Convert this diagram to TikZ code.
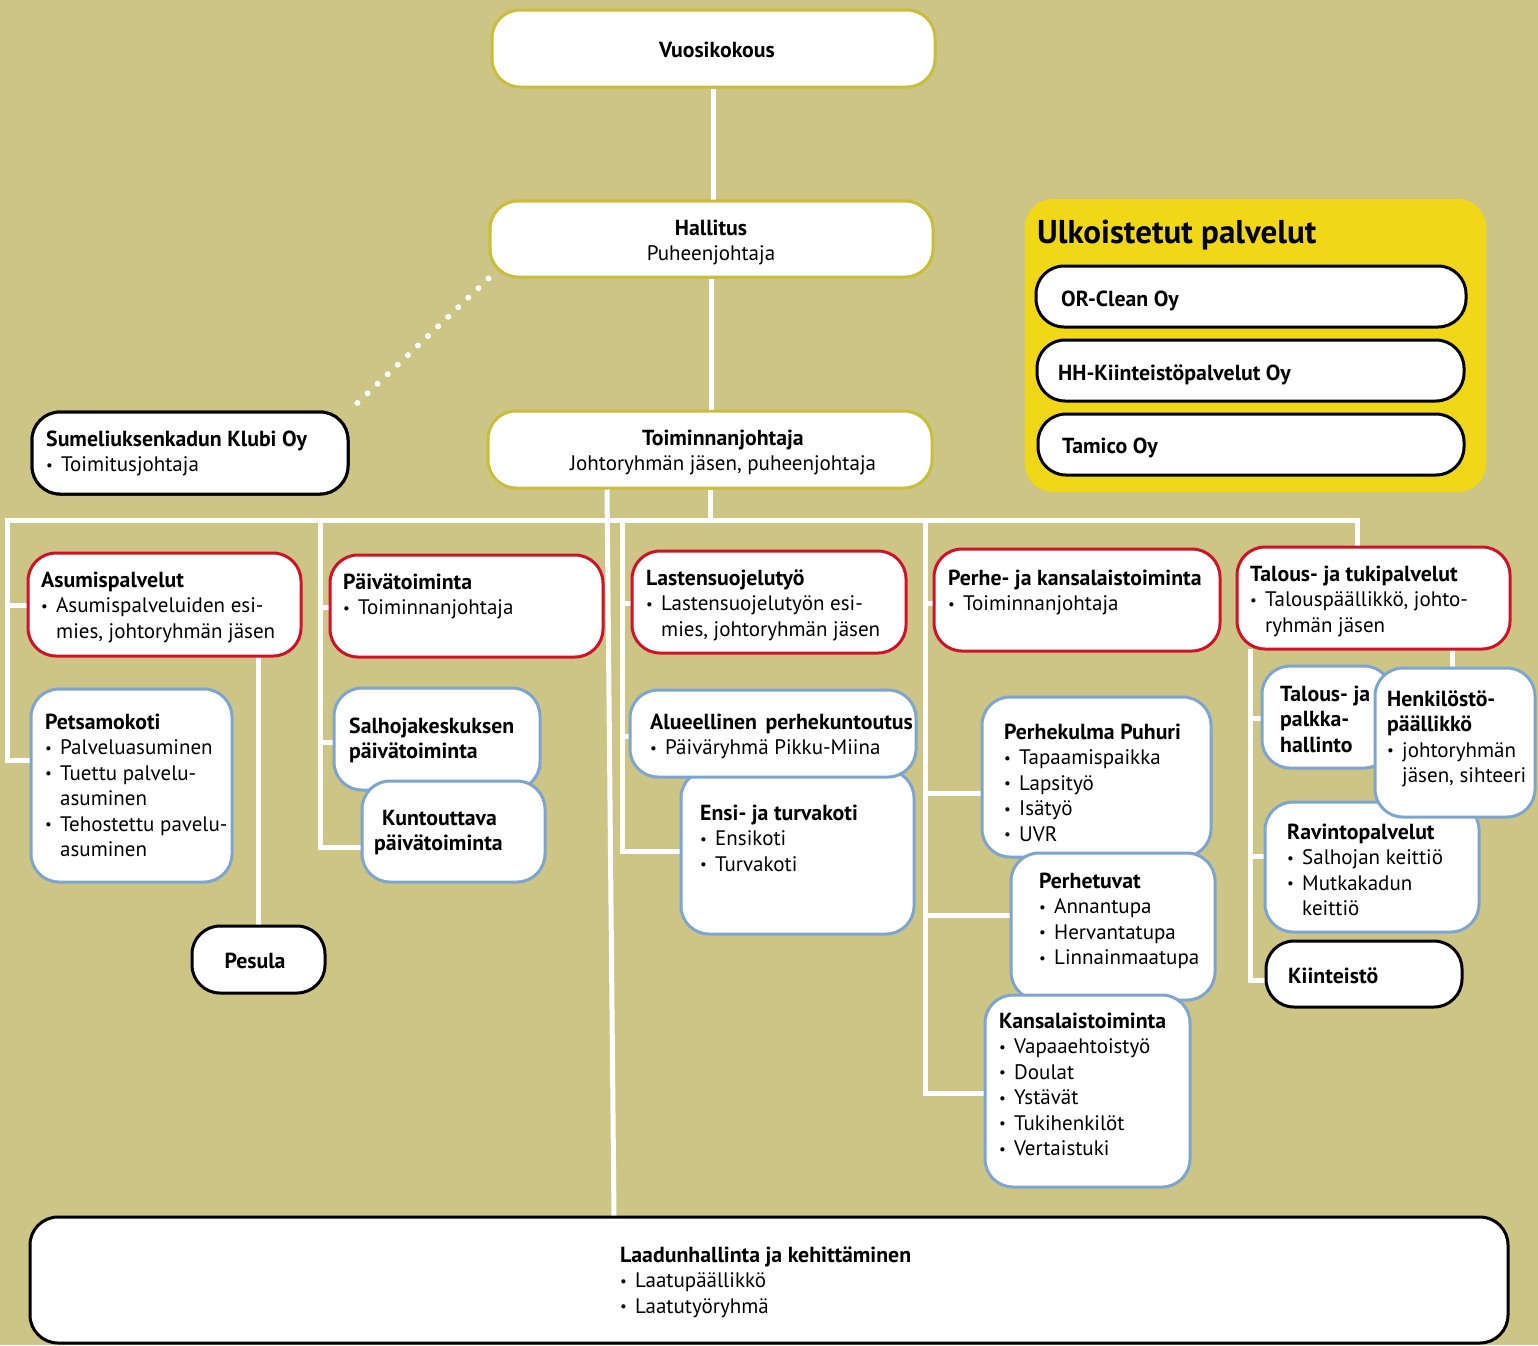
\documentclass[tikz,border=0pt]{standalone}
\usepackage{fontspec}
\setmainfont{PT Sans}
\definecolor{bg}{RGB}{205,197,133}
\definecolor{olivebd}{RGB}{200,190,60}
\definecolor{ylw}{RGB}{240,216,24}
\definecolor{redbd}{RGB}{208,18,40}
\definecolor{bluebd}{RGB}{125,165,208}
\newcommand\bul{\makebox[15pt][l]{\raisebox{1.5pt}{\fontsize{15}{15}\selectfont\textbullet}}}
\newcommand\ind{\hspace*{15pt}}
\newcommand\tb[1]{{\fontsize{21.8}{25.5}\selectfont\bfseries #1}}
\newcommand\mytl[4]{\node[txt,anchor=base west] (#1) at (#2,#3) {\begin{tabular}[t]{@{}l@{}}#4\end{tabular}};}
\newcommand\mytc[4]{\node[txt,anchor=base] (#1) at (#2,#3) {\begin{tabular}[t]{@{}c@{}}#4\end{tabular}};}
\newcommand\bx[6]{\node[boxx,#2,minimum width={#5-#3},minimum height={#6-#4}] (#1) at ({(#3+#5)/2},{(#4+#6)/2}) {};}
\tikzset{
  boxx/.style={rectangle,rounded corners=28pt,line width=3pt,fill=white,inner sep=0pt},
  olive/.style={draw=olivebd},
  redb/.style={draw=redbd},
  blueb/.style={draw=bluebd},
  blackb/.style={draw=black},
  yel/.style={fill=ylw,draw=none},
  txt/.style={inner sep=0pt,font=\fontsize{21}{25.5}\selectfont},
  wire/.style={draw=white,line width=5pt},
}
\begin{document}
\begin{tikzpicture}[x=1pt,y=-1pt]
\useasboundingbox (0,0) rectangle (1538,1345);
\fill[bg] (0,0) rectangle (1538,1345);
% coordinates
\coordinate (bL) at (7,520);
\coordinate (bR) at (1357,520);
\coordinate (c2) at (320,520);
\coordinate (c3) at (622,520);
\coordinate (c4) at (925,520);
\coordinate (cT) at (1250,649);
\coordinate (cH) at (1452,649);
% top boxes
\bx{vuosi}{olive}{492}{10}{935}{87}
\bx{hall}{olive}{490}{201}{933}{277}
\bx{toim}{olive}{488}{411}{932}{488}
\bx{klubi}{blackb}{32}{412}{348}{494}
\bx{ulko}{yel}{1025}{199}{1486}{492}
\bx{orc}{blackb}{1036}{266}{1466}{327}
\bx{hh}{blackb}{1037}{340}{1464}{401}
\bx{tam}{blackb}{1038}{414}{1464}{475}
% wires
\draw[wire] (vuosi.south) -- (vuosi.south |- hall.north);
\draw[wire] (hall.south) -- (hall.south |- toim.north);
\draw[white,line width=6pt,line cap=round,dash pattern=on 0pt off 13.9pt] (hall.south west) -- (klubi.north east);
\draw[wire] (toim.south) -- (toim.south |- bL);
\draw[wire] (toim.south -| 607,0) -- (614,1218);
\draw[wire] (31,760) -| (bL) -- (bR) -- (1357,549);
\draw[wire] (bL |- 0,605) -- (29,605);
\draw[wire] (c2) |- (363,847);
\draw[wire] (c2 |- 0,607) -- (331,607);
\draw[wire] (c2 |- 0,742) -- (335,742);
\draw[wire] (c3) |- (682,851);
\draw[wire] (c3 |- 0,603) -- (633,603);
\draw[wire] (c3 |- 0,736) -- (631,736);
\draw[wire] (c4) |- (986,1093);
\draw[wire] (c4 |- 0,603) -- (935,603);
\draw[wire] (c4 |- 0,793) -- (983,793);
\draw[wire] (c4 |- 0,915) -- (1012,915);
\draw[wire] (cT) |- (1267,980);
\draw[wire] (cT |- 0,718) -- (1263,718);
\draw[wire] (cT |- 0,856) -- (1266,856);
\draw[wire] (cH) -- (1452,669);
\draw[wire] (258,656) -- (258,927);
% remaining boxes
\bx{asu}{redb}{28}{553}{301}{656}
\bx{paiva}{redb}{330}{555}{603}{657}
\bx{last}{redb}{632}{551}{906}{653}
\bx{perhe}{redb}{934}{549}{1220}{651}
\bx{talous}{redb}{1237}{547}{1510}{649}
\bx{pets}{blueb}{31}{689}{232}{882}
\bx{salho}{blueb}{334}{688}{540}{790}
\bx{kunto}{blueb}{362}{781}{545}{882}
\bx{ensi}{blueb}{681}{770}{914}{934}
\bx{alue}{blueb}{630}{690}{916}{777}
\bx{puhuri}{blueb}{982}{697}{1211}{857}
\bx{tuvat}{blueb}{1011}{853}{1215}{1000}
\bx{kansa}{blueb}{985}{995}{1190}{1187}
\bx{palkka}{blueb}{1262}{666}{1392}{768}
\bx{ravinto}{blueb}{1265}{802}{1479}{932}
\bx{henk}{blueb}{1375}{668}{1535}{817}
\bx{kiint}{blackb}{1266}{941}{1462}{1007}
\bx{pesula}{blackb}{192}{926}{325}{993}
\bx{laatu}{blackb}{30}{1217}{1508}{1343}
% redraw top boxes over dotted line
\bx{hall2}{olive}{490}{201}{933}{277}
\bx{klubi2}{blackb}{32}{412}{348}{494}
% texts
\mytc{vuosi-t}{717}{57}{\tb{Vuosikokous}}
\mytc{hall-t}{711}{235}{\tb{Hallitus}\\Puheenjohtaja}
\mytc{toim-t}{723}{445}{\tb{Toiminnanjohtaja}\\Johtoryhmän jäsen, puheenjohtaja}
\mytl{klubi-t}{46}{446}{\tb{Sumeliuksenkadun Klubi Oy}\\\bul Toimitusjohtaja}
\node[txt,anchor=base west,font=\fontsize{33}{36}\selectfont\bfseries] (ulko-t) at (1037,243) {Ulkoistetut palvelut};
\mytl{orc-t}{1061}{306}{\tb{OR-Clean Oy}}
\mytl{hh-t}{1058}{380}{\tb{HH-Kiinteistöpalvelut Oy}}
\mytl{tam-t}{1062}{453}{\tb{Tamico Oy}}
\mytl{asu-t}{41}{587}{\tb{Asumispalvelut}\\\bul Asumispalveluiden esi-\\\ind mies, johtoryhmän jäsen}
\mytl{paiva-t}{343}{589}{\tb{Päivätoiminta}\\\bul Toiminnanjohtaja}
\mytl{last-t}{646}{585}{\tb{Lastensuojelutyö}\\\bul Lastensuojelutyön esi-\\\ind mies, johtoryhmän jäsen}
\mytl{perhe-t}{948}{585}{\tb{Perhe- ja kansalaistoiminta}\\\bul Toiminnanjohtaja}
\mytl{talous-t}{1250}{581}{\tb{Talous- ja tukipalvelut}\\\bul Talouspäällikkö, johto-\\\ind ryhmän jäsen}
\mytl{pets-t}{45}{729}{\tb{Petsamokoti}\\\bul Palveluasuminen\\\bul Tuettu palvelu-\\\ind asuminen\\\bul Tehostettu pavelu-\\\ind asuminen}
\mytl{salho-t}{349}{733}{\tb{Salhojakeskuksen}\\\tb{päivätoiminta}}
\mytl{kunto-t}{374}{825}{\hspace*{8pt}\tb{Kuntouttava}\\\tb{päivätoiminta}}
\mytl{alue-t}{650}{729}{\tb{Alueellinen\hspace{3pt} perhekuntoutus}\\\bul Päiväryhmä Pikku-Miina}
\mytl{ensi-t}{700}{820}{\tb{Ensi- ja turvakoti}\\\bul Ensikoti\\\bul Turvakoti}
\mytl{puhuri-t}{1004}{739}{\tb{Perhekulma Puhuri}\\\bul Tapaamispaikka\\\bul Lapsityö\\\bul Isätyö\\\bul UVR}
\mytl{tuvat-t}{1039}{888}{\tb{Perhetuvat}\\\bul Annantupa\\\bul Hervantatupa\\\bul Linnainmaatupa}
\mytl{kansa-t}{999}{1028}{\tb{Kansalaistoiminta}\\\bul Vapaaehtoistyö\\\bul Doulat\\\bul Ystävät\\\bul Tukihenkilöt\\\bul Vertaistuki}
\mytl{palkka-t}{1280}{701}{\tb{Talous- ja}\\\tb{palkka-}\\\tb{hallinto}}
\mytl{henk-t}{1387}{706}{\tb{Henkilöstö-}\\\tb{päällikkö}\\\bul johtoryhmän\\\ind jäsen, sihteeri}
\mytl{ravinto-t}{1287}{839}{\tb{Ravintopalvelut}\\\bul Salhojan keittiö\\\bul Mutkakadun\\\ind keittiö}
\mytl{kiint-t}{1288}{983}{\tb{Kiinteistö}}
\mytc{pesula-t}{255}{968}{\tb{Pesula}}
\mytl{laatu-t}{620}{1262}{\tb{Laadunhallinta ja kehittäminen}\\\bul Laatupäällikkö\\\bul Laatutyöryhmä}
\end{tikzpicture}
\end{document}
